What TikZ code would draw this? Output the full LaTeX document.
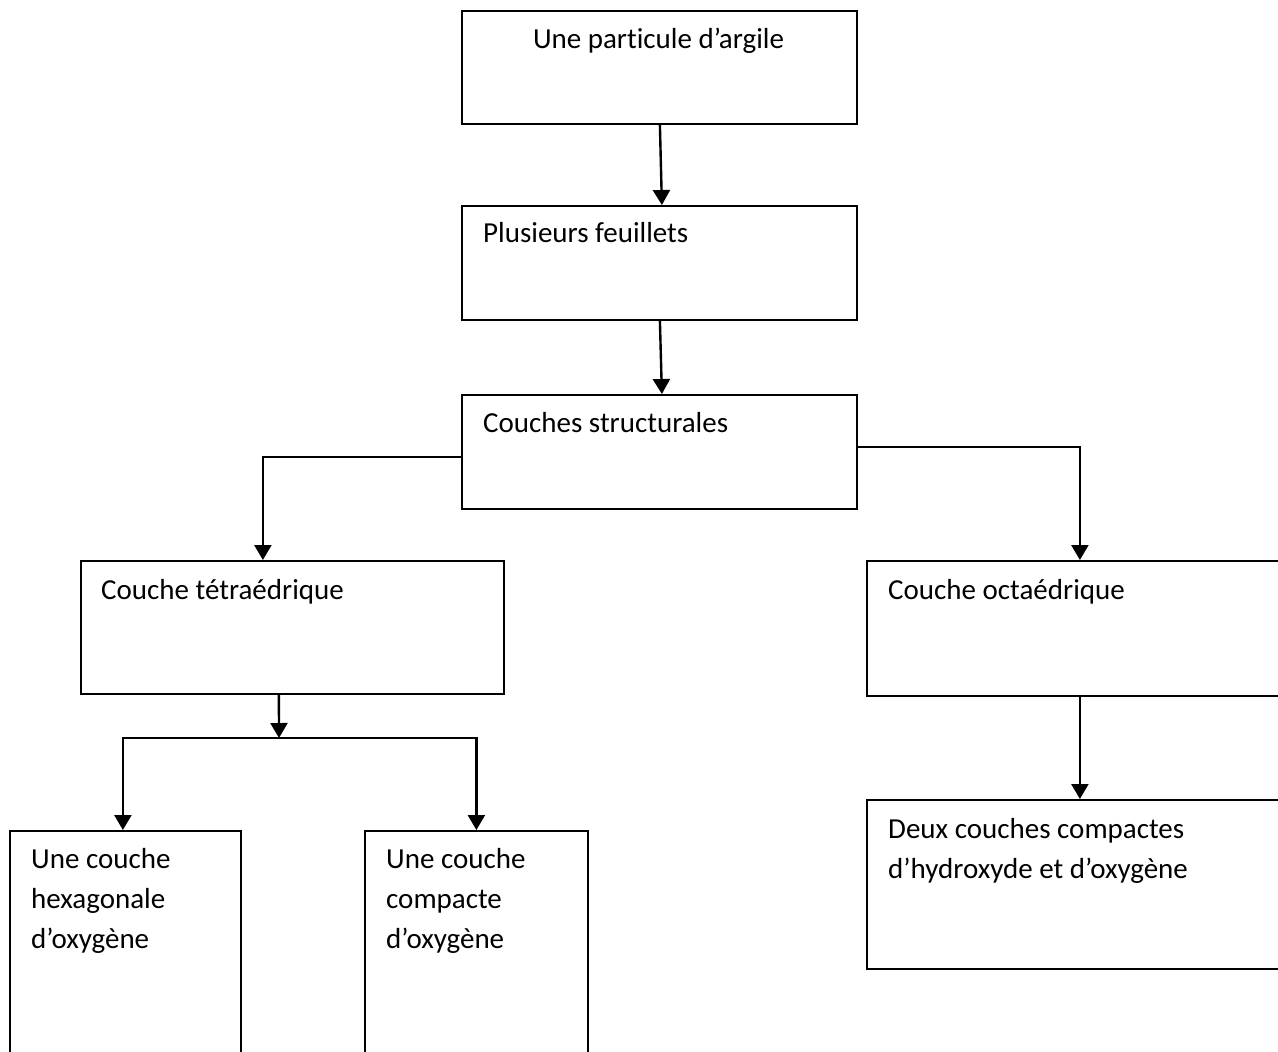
\documentclass[tikz,border=0pt]{standalone}
\usepackage{fontspec}
\setmainfont{Carlito}[Ligatures={NoCommon}]
\usetikzlibrary{arrows.meta}
\begin{document}
\begin{tikzpicture}[x=1pt,y=-1pt,
  box/.style={draw,line width=1.8pt,anchor=north west,inner sep=0pt,minimum width=#1},
  lbl/.style={anchor=base west,inner sep=0pt,align=left,font=\fontsize{29pt}{40pt}\selectfont},
  link/.style={line width=2.4pt,-{Triangle[length=15pt,width=17pt]}}]
\useasboundingbox (0,0) rectangle (1278,1052);
\clip (0,0) rectangle (1278,1052);
\fill[white] (0,0) rectangle (1278,1052);

% boxes
\node[box=395pt,minimum height=113pt] (b1) at (461,10) {};
\node[box=395pt,minimum height=114pt] (b2) at (461,205) {};
\node[box=395pt,minimum height=114pt] (b3) at (461,394) {};
\node[box=423pt,minimum height=133pt] (b4) at (80,560) {};
\node[box=426pt,minimum height=135pt] (b5) at (866,560) {};
\node[box=231pt,minimum height=260pt] (b6) at (9,830) {};
\node[box=223pt,minimum height=260pt] (b7) at (364,830) {};
\node[box=426pt,minimum height=169pt] (b8) at (866,799) {};

% labels (multi-line labels sit on the baseline of their last line)
\node[lbl,anchor=base] (t1) at (658.5,48) {Une particule d’argile};
\node[lbl] (t2) at (483,242) {Plusieurs feuillets};
\node[lbl] (t3) at (483,432) {Couches structurales};
\node[lbl] (t4) at (101,599) {Couche tétraédrique};
\node[lbl] (t5) at (888,599) {Couche octaédrique};
\node[lbl] (t6) at (31,948) {Une couche\\hexagonale\\d’oxygène};
\node[lbl] (t7) at (386,948) {Une couche\\compacte\\d’oxygène};
\node[lbl] (t8) at (888,878) {Deux couches compactes\\d’hydroxyde et d’oxygène};

% connectors
\draw[link] ([xshift=0.5pt]b1.south) -- ([xshift=2.5pt]b2.north);
\draw[link] ([xshift=0.5pt]b2.south) -- ([xshift=2.5pt]b3.north);
\draw[link] ([yshift=-5pt]b3.west) -| ([xshift=-29.5pt]b4.north);
\draw[link] ([yshift=5pt]b3.east) -| (b5.north);
\coordinate (split) at (279,738);
\draw[link] ([xshift=-13.5pt]b4.south) -- (split);
\draw[link] (split) -| ([xshift=-2.5pt]b6.north);
\draw[link] (split) -| (b7.north);
\draw[link] (b5.south) -- (b8.north);
\end{tikzpicture}
\end{document}
